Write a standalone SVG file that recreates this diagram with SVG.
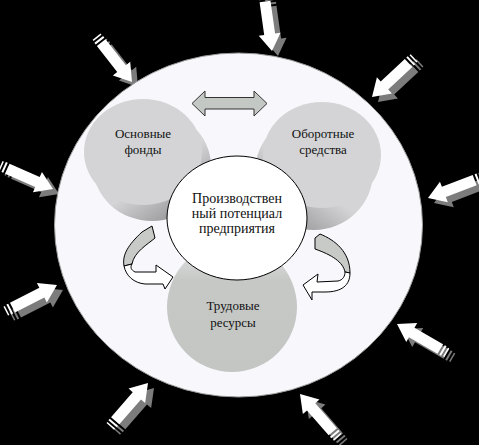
<svg xmlns="http://www.w3.org/2000/svg" xmlns:xlink="http://www.w3.org/1999/xlink" width="479" height="445" viewBox="0 0 479 445">
  <defs>
    <style>
      .lbl { font-family: "Liberation Serif", "Times New Roman", serif; font-size: 13px; fill: #111; text-anchor: middle; }
      .ctr { font-size: 14px; }
      .wht { fill: #ffffff; }
      .shd { fill: #7c7c7c; }
      .ol { stroke: #000; stroke-width: 1; }
    </style>
    <linearGradient id="sideL" x1="0.2" y1="0.2" x2="0.8" y2="1">
      <stop offset="0.5" stop-color="#d4d4d6"/>
      <stop offset="1" stop-color="#8e8e90"/>
    </linearGradient>
    <linearGradient id="sideR" x1="0.8" y1="0.2" x2="0.2" y2="1">
      <stop offset="0.5" stop-color="#d4d4d6"/>
      <stop offset="1" stop-color="#8e8e90"/>
    </linearGradient>
    <linearGradient id="labor" x1="0" y1="0" x2="0" y2="1">
      <stop offset="0" stop-color="#e4e4e6"/>
      <stop offset="0.3" stop-color="#c6c8c6"/>
      <stop offset="1" stop-color="#c4c6c4"/>
    </linearGradient>
    <g id="arr">
      <path d="M0,0 L-17,-11 L-17,-5.5 L-50,-5.5 L-50,5.5 L-17,5.5 L-17,11 Z"/>
      <rect x="-54" y="-5.5" width="2" height="11"/>
      <rect x="-57.5" y="-5" width="1.5" height="10"/>
    </g>
  </defs>

  <rect width="479" height="445" fill="#000"/>

  <g id="outer-arrows">
    <g transform="translate(132,82) rotate(52)"><use href="#arr" class="shd" transform="rotate(-52) translate(6,5) rotate(52)"/><use href="#arr" class="wht"/></g>
    <g transform="translate(272,51) rotate(82)"><use href="#arr" class="shd" transform="rotate(-82) translate(6,5) rotate(82)"/><use href="#arr" class="wht"/></g>
    <g transform="translate(372,97) rotate(137)"><use href="#arr" class="shd" transform="rotate(-137) translate(6,5) rotate(137)"/><use href="#arr" class="wht"/></g>
    <g transform="translate(53,189) rotate(24)"><use href="#arr" class="shd" transform="rotate(-24) translate(6,5) rotate(24)"/><use href="#arr" class="wht"/></g>
    <g transform="translate(428,198) rotate(159)"><use href="#arr" class="shd" transform="rotate(-159) translate(6,5) rotate(159)"/><use href="#arr" class="wht"/></g>
    <g transform="translate(57,285) rotate(-27)"><use href="#arr" class="shd" transform="rotate(27) translate(6,5) rotate(-27)"/><use href="#arr" class="wht"/></g>
    <g transform="translate(397,324) rotate(210)"><use href="#arr" class="shd" transform="rotate(-210) translate(6,5) rotate(210)"/><use href="#arr" class="wht"/></g>
    <g transform="translate(148,383) rotate(-49)"><use href="#arr" class="shd" transform="rotate(49) translate(6,5) rotate(-49)"/><use href="#arr" class="wht"/></g>
    <g transform="translate(300,394) rotate(-131)"><use href="#arr" class="shd" transform="rotate(131) translate(6,5) rotate(-131)"/><use href="#arr" class="wht"/></g>
  </g>

  <g id="outer-circle">
    <ellipse cx="238.5" cy="225" rx="184" ry="172" fill="#f8f8fc" stroke="#9a9a9a" stroke-width="1"/>
  </g>

  <g id="node-fixed-assets">
    <ellipse cx="152" cy="166" rx="59" ry="55" fill="url(#sideL)"/>
    <ellipse cx="143" cy="152" rx="59" ry="53" fill="#d4d4d6"/>
    <text class="lbl" x="143" y="138">Основные</text>
    <text class="lbl" x="143" y="154">фонды</text>
  </g>

  <g id="node-working-capital">
    <ellipse cx="314" cy="172" rx="59" ry="58" fill="url(#sideR)"/>
    <ellipse cx="322" cy="155" rx="59" ry="53" fill="#d4d4d6"/>
    <text class="lbl" x="323" y="138">Оборотные</text>
    <text class="lbl" x="323" y="154">средства</text>
  </g>

  <g id="node-labor">
    <circle cx="232" cy="307" r="65" fill="url(#labor)"/>
    <text class="lbl" x="233" y="310">Трудовые</text>
    <text class="lbl" x="233" y="327">ресурсы</text>
  </g>

  <g id="node-center">
    <ellipse cx="237" cy="218" rx="70" ry="62" fill="#ffffff" class="ol"/>
    <text class="lbl ctr" x="237" y="203">Производствен</text>
    <text class="lbl ctr" x="237" y="218">ный потенциал</text>
    <text class="lbl ctr" x="237" y="233">предприятия</text>
  </g>

  <g id="connectors">
    <path d="M192,103.5 L205,91 L205,97.5 L254,97.5 L254,91 L267,103.5 L254,116 L254,109 L205,109 L205,116 Z" fill="#c4c8c4" stroke="#333" stroke-width="1"/>
    <path d="M142,232 C128,245 122,255 124,266 L132,264 C134,252 148,244 155,238 L152,226 Z" fill="#c8cac8" class="ol"/>
    <path d="M124,266 C126,276 134,283 145,284 L163,284 L165,289 L173,277 L156,265 L156,272 L135,272 C131,270 130,267 132,264 Z" fill="#ffffff" class="ol"/>
    <path d="M315,238 L320,234 C335,240 350,252 350,273 L345,272 C343,262 332,255 315,249 Z" fill="#c8cac8" class="ol"/>
    <path d="M350,273 C350,285 342,292 325,292 L312,292 L312,300 L303,285 L318,274 L317,282 L338,281 C343,280 345,276 345,272 Z" fill="#ffffff" class="ol"/>
  </g>
</svg>
